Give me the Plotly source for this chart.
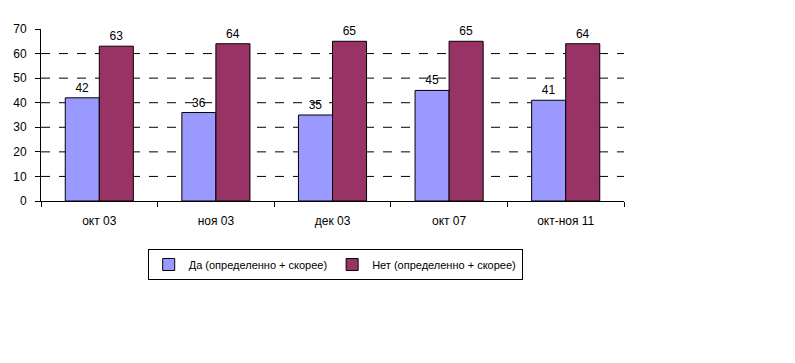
import plotly.graph_objects as go

categories = ["окт 03", "ноя 03", "дек 03", "окт 07", "окт-ноя 11"]
yes_values = [42, 36, 35, 45, 41]
no_values = [63, 64, 65, 65, 64]
yes_name = "Да (определенно + скорее)"
no_name = "Нет (определенно + скорее)"
grid_values = [10, 20, 30, 40, 50, 60]

fig = go.Figure()
fig.add_trace(go.Bar(x=categories, y=yes_values, name=yes_name,
                     marker=dict(color="#9999FF", line=dict(color="black", width=1)),
                     text=yes_values, textposition="outside",
                     textfont=dict(color="black", size=12), cliponaxis=False))
fig.add_trace(go.Bar(x=categories, y=no_values, name=no_name,
                     marker=dict(color="#993366", line=dict(color="black", width=1)),
                     text=no_values, textposition="outside",
                     textfont=dict(color="black", size=12), cliponaxis=False))

for g in grid_values:
    fig.add_shape(type="line", xref="paper", x0=0, x1=1, yref="y", y0=g, y1=g,
                  line=dict(color="black", width=1, dash="dash"), layer="below")

fig.update_layout(
    width=787, height=355,
    margin=dict(l=33, r=171, t=21, b=162, autoexpand=False),
    paper_bgcolor="white", plot_bgcolor="white",
    font=dict(family="Liberation Sans, Arial, sans-serif", size=12, color="black"),
    barmode="group", bargap=0.416, bargroupgap=0,
    showlegend=True,
    legend=dict(orientation="h", x=0.183, y=-0.279, xanchor="left", yanchor="top",
                bordercolor="black", borderwidth=1, font=dict(size=11),
                itemwidth=30, tracegroupgap=0),
    xaxis=dict(showline=True, linecolor="black", linewidth=1, ticks="outside",
               tickson="boundaries", ticklen=5, tickcolor="black", showgrid=False,
               tickfont=dict(size=12), ticklabelstandoff=9, automargin=False),
    yaxis=dict(range=[0, 70], showline=True, linecolor="black", linewidth=1,
               ticks="outside", ticklen=5, tickcolor="black", dtick=10,
               showgrid=False, zeroline=False, tickfont=dict(size=12),
               ticklabelstandoff=6, automargin=False),
)

fig.write_html("out.html")
